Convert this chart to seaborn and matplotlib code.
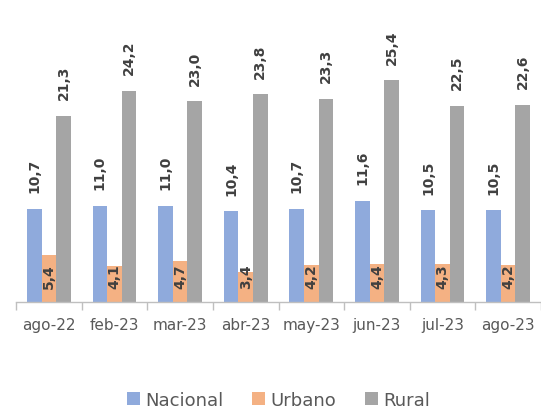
import pandas as pd
import matplotlib
matplotlib.use("Agg")
import matplotlib.pyplot as plt
import seaborn as sns

# data
meses = ["ago-22", "feb-23", "mar-23", "abr-23", "may-23", "jun-23", "jul-23", "ago-23"]
nacional = [10.7, 11.0, 11.0, 10.4, 10.7, 11.6, 10.5, 10.5]
urbano = [5.4, 4.1, 4.7, 3.4, 4.2, 4.4, 4.3, 4.2]
rural = [21.3, 24.2, 23.0, 23.8, 23.3, 25.4, 22.5, 22.6]
series = ["Nacional", "Urbano", "Rural"]
colores = ["#8FAADC", "#F4B183", "#A5A5A5"]

df = pd.DataFrame({
    "mes": meses * 3,
    "serie": [s for s in series for _ in meses],
    "valor": nacional + urbano + rural,
})

sns.set_style("white")
plt.rcParams["font.family"] = ["DejaVu Sans"]

fig = plt.figure(figsize=(5.41, 4.10), dpi=100)
ax = fig.add_axes([16 / 541, 107 / 410, 525 / 541, 288 / 410])

sns.barplot(data=df, x="mes", y="valor", hue="serie", order=meses,
            hue_order=series, palette=colores, width=0.667, gap=0,
            saturation=1, errorbar=None, ax=ax, edgecolor="none")

# data labels (comma decimal, rotated)
for cont, vals, nombre in zip(ax.containers, [nacional, urbano, rural], series):
    for bar, v in zip(cont, vals):
        xc = bar.get_x() + bar.get_width() / 2
        txt = f"{v:.1f}".replace(".", ",")
        if nombre == "Urbano":
            ax.annotate(txt, (xc, 0), xytext=(0, 10), textcoords="offset points",
                        ha="center", va="bottom", rotation=90, fontsize=10,
                        fontweight="bold", color="#404040")
        else:
            ax.annotate(txt, (xc, bar.get_height()), xytext=(0, 12),
                        textcoords="offset points", ha="center", va="bottom",
                        rotation=90, fontsize=10, fontweight="bold", color="#404040")

ax.set_ylim(0, 33)
ax.set_xlim(-0.5, len(meses) - 0.5)
ax.set_xlabel("")
ax.set_ylabel("")
ax.set_yticks([])
for s in ["top", "right", "left"]:
    ax.spines[s].set_visible(False)
ax.spines["bottom"].set_color("#BFBFBF")
ax.spines["bottom"].set_linewidth(1)

ax.set_xticks(range(len(meses)))
ax.set_xticklabels(meses, fontsize=11, color="#595959")
ax.set_xticks([i - 0.5 for i in range(len(meses) + 1)], minor=True)
ax.tick_params(axis="x", which="major", length=0, pad=11)
ax.tick_params(axis="x", which="minor", bottom=True, direction="out",
               length=6, color="#BFBFBF", width=1)

ax.legend(loc="center", bbox_to_anchor=(0.5, -0.34), ncol=3, frameon=False,
          fontsize=13, handlelength=0.7, handleheight=0.7, handletextpad=0.3,
          columnspacing=1.6, labelcolor="#595959")

fig.savefig("out.png", dpi=100)
